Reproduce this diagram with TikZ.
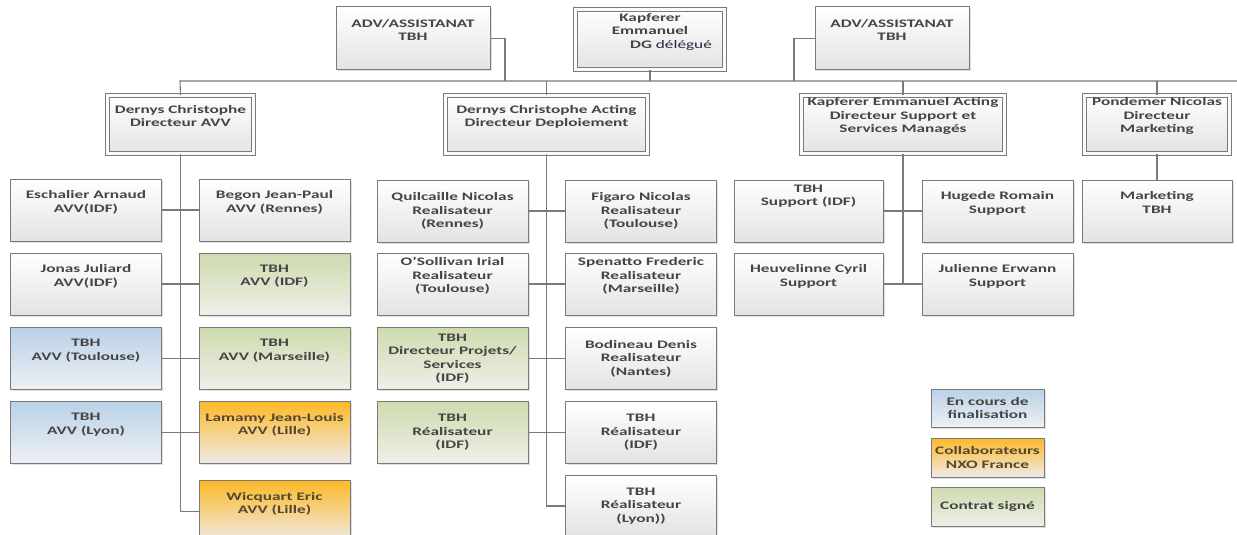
\documentclass[tikz,border=0pt]{standalone}
\usepackage{fontspec}
\setmainfont[FakeStretch=1.5]{Carlito}
\usepackage{xcolor}
\usepackage{tikz}
\usetikzlibrary{shadows}
\definecolor{edge2}{HTML}{7A7A7A}
\definecolor{txt2}{HTML}{454545}
\definecolor{txtor}{HTML}{54472E}
\definecolor{dgtxt}{HTML}{262840}
\definecolor{plainbot}{HTML}{E3E3E3}
\definecolor{blue2}{HTML}{B9D1E7}
\definecolor{bluebot}{HTML}{EEF0F3}
\definecolor{green2}{HTML}{CEDBAE}
\definecolor{greenbot}{HTML}{EFEFE9}
\definecolor{orange2}{HTML}{FDB927}
\definecolor{orangebot}{HTML}{EFEBEA}

\begin{document}
\begin{tikzpicture}[
        x=1pt,y=-1pt,
        font=\fontsize{11.5}{13.5}\selectfont\bfseries,
        box/.style={draw=edge2,line width=1pt,top color=white,bottom color=plainbot,
                    text=txt2,align=center,inner sep=0pt,
                    minimum width=151pt,minimum height=62pt,
                    drop shadow={shadow xshift=1.5pt,shadow yshift=-1.5pt,opacity=.25}},
        bluebox/.style={box,top color=blue2,bottom color=bluebot},
        greenbox/.style={box,top color=green2,bottom color=greenbot},
        orangebox/.style={box,top color=orange2,bottom color=orangebot,text=txtor},
        dirbox/.style={box,double=white!96!gray,double distance=3pt,
                       minimum width=146pt,minimum height=58pt},
        keybox/.style={box,minimum width=113pt,minimum height=38pt},
        link/.style={draw=edge2,line width=1.1pt}
    ]
      \useasboundingbox (0,0) rectangle (1237,535);
      \clip (0,0) rectangle (1237,535);

      % top line
      \node[box,minimum width=154pt,minimum height=63pt] (advL) at (413,38.5) {ADV/ASSISTANAT\\TBH\\\strut};
      \node[dirbox,minimum width=149pt,minimum height=60pt] (dg) at (650,39.5)
           {Kapferer\\Emmanuel\\\hspace*{42pt}DG {\mdseries\color{dgtxt}délégué}\\\strut};
      \node[box,minimum width=154pt,minimum height=63pt] (advR) at (892,38.5) {ADV/ASSISTANAT\\TBH\\\strut};

      \coordinate (busL) at (180,81);
      \coordinate (busR) at (1237,81);
      \coordinate (jL) at (505,81);
      \coordinate (jR) at (794,81);

      % directors
      \node[dirbox] (dirAVV) at (180.5,124.5) {Dernys Christophe\\Directeur AVV\\\strut};
      \node[dirbox,minimum width=202pt] (dirDep) at (546.5,124.5) {Dernys Christophe Acting\\Directeur Deploiement\\\strut};
      \node[dirbox,minimum width=203pt] (dirSup) at (903,124) {Kapferer Emmanuel Acting\\Directeur Support et\\Services Managés\\\strut};
      \node[dirbox,minimum width=145pt] (dirMkt) at (1157,124) {Pondemer Nicolas\\Directeur\\Marketing\\\strut};

      \draw[link] (busR) -- (busL) -- (dirAVV.north);
      \draw[link] (advL.east) -| (jL);
      \draw[link] (advR.west) -| (jR);
      \draw[link] (dg.south) -- (dg.south |- busL);
      \draw[link] (dirDep.north |- busL) -- (dirDep.north);
      \draw[link] (dirSup.north |- busL) -- (dirSup.north);
      \draw[link] (dirMkt.north |- busL) -- (dirMkt.north);

      % AVV
      \node[box] (avv1l) at (86,210) {Eschalier Arnaud\\AVV(IDF)\\\strut};
      \node[box] (avv1r) at (274.5,210) {Begon Jean-Paul\\AVV (Rennes)\\\strut};
      \node[box] (avv2l) at (86,284) {Jonas Juliard\\AVV(IDF)\\\strut};
      \node[greenbox] (avv2r) at (274.5,284) {TBH\\AVV (IDF)\\\strut};
      \node[bluebox] (avv3l) at (86,358.5) {TBH\\AVV (Toulouse)\\\strut};
      \node[greenbox] (avv3r) at (274.5,358.5) {TBH\\AVV (Marseille)\\\strut};
      \node[bluebox] (avv4l) at (86,432.5) {TBH\\AVV (Lyon)\\\strut};
      \node[orangebox] (avv4r) at (274.5,432.5) {Lamamy Jean-Louis\\AVV (Lille)\\\strut};
      \node[orangebox] (avv5r) at (274.5,511.5) {Wicquart Eric\\AVV (Lille)\\\strut};

      \draw[link] (dirAVV.south) |- (avv5r.west);
      \draw[link] (avv1l.east) -- (avv1r.west);
      \draw[link] (avv2l.east) -- (avv2r.west);
      \draw[link] (avv3l.east) -- (avv3r.west);
      \draw[link] (avv4l.east) -- (avv4r.west);

      % deploiement
      \node[box] (dep1l) at (452.5,211) {Quilcaille Nicolas\\Realisateur\\(Rennes)};
      \node[box] (dep1r) at (641,211) {Figaro Nicolas\\Realisateur\\(Toulouse)};
      \node[box] (dep2l) at (452.5,284) {O'Sollivan Irial\\Realisateur\\(Toulouse)\\\strut};
      \node[box] (dep2r) at (641,284) {Spenatto Frederic\\Realisateur\\(Marseille)\\\strut};
      \node[greenbox] (dep3l) at (452.5,358.5) {TBH\\Directeur Projets/\\Services\\(IDF)};
      \node[box] (dep3r) at (641,358.5) {Bodineau Denis\\Realisateur\\(Nantes)};
      \node[greenbox] (dep4l) at (452.5,432.5) {TBH\\Réalisateur\\(IDF)};
      \node[box] (dep4r) at (641,432.5) {TBH\\Réalisateur\\(IDF)};
      \node[box] (dep5r) at (641,506) {TBH\\Réalisateur\\(Lyon))};

      \draw[link] (dirDep.south) |- (dep5r.west);
      \draw[link] (dep1l.east) -- (dep1r.west);
      \draw[link] (dep2l.east) -- (dep2r.west);
      \draw[link] (dep3l.east) -- (dep3r.west);
      \draw[link] (dep4l.east) -- (dep4r.west);

      % support
      \node[box,minimum width=149pt] (sup1l) at (808.5,211) {TBH\\Support (IDF)\\\strut\\\strut};
      \node[box] (sup1r) at (997.5,211) {Hugede Romain\\Support\\\strut};
      \node[box,minimum width=149pt] (sup2l) at (808.5,284) {Heuvelinne Cyril\\Support\\\strut};
      \node[box] (sup2r) at (997.5,284) {Julienne Erwann\\Support\\\strut};
      \coordinate (supEnd) at (903,283);

      \draw[link] (dirSup.south) -- (supEnd);
      \draw[link] (sup1l.east) -- (sup1r.west);
      \draw[link] (sup2l.east) -- (sup2r.west);

      % marketing
      \node[box,minimum width=150pt] (mkt1) at (1157,211) {Marketing\\TBH\\\strut};
      \draw[link] (dirMkt.south) -- (mkt1.north);

      % key
      \node[keybox,top color=blue2,bottom color=bluebot] (key1) at (987.5,408) {En cours de\\finalisation};
      \node[keybox,top color=orange2,bottom color=orangebot,text=txtor,minimum height=39pt] (key2) at (987.5,457.5) {Collaborateurs\\NXO France};
      \node[keybox,top color=green2,bottom color=greenbot,minimum height=39pt] (key3) at (987.5,506.5) {Contrat signé};
    \end{tikzpicture}
\end{document}
